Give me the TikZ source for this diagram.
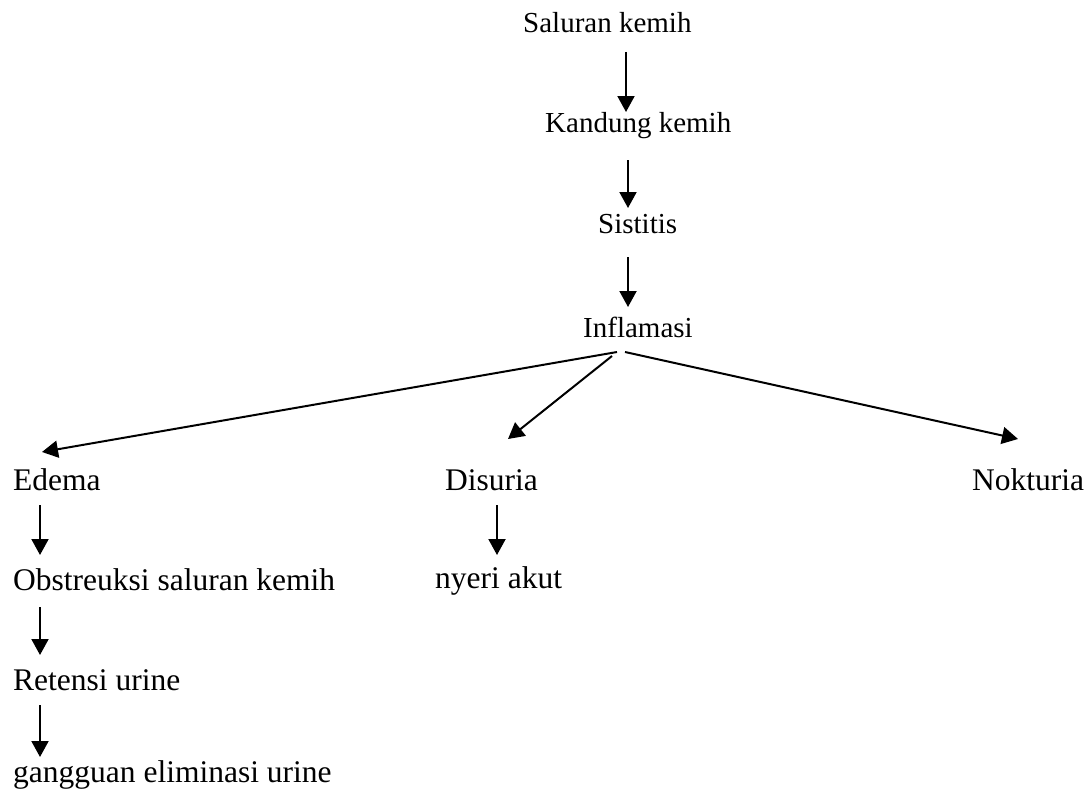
\documentclass[tikz,border=0pt]{standalone}
\usepackage{fontspec}
\setmainfont{Liberation Serif}
\usetikzlibrary{arrows.meta}
\begin{document}
\begin{tikzpicture}[x=1pt,y=-1pt,
  toptxt/.style={anchor=base west,inner sep=0pt,font=\fontsize{29}{32}\selectfont},
  bottxt/.style={anchor=base west,inner sep=0pt,font=\fontsize{31.5}{34}\selectfont},
  arr/.style={line width=2pt,-{Triangle[length=16pt,width=17pt]}}]
\useasboundingbox (0,0) rectangle (1092,800);
\node[toptxt] (sal) at (523,33) {Saluran kemih};
\node[toptxt] (kan) at (545,132) {Kandung kemih};
\node[toptxt] (sis) at (598,233) {Sistitis};
\node[toptxt] (inf) at (583,337) {Inflamasi};
\node[bottxt] (ede) at (13,490) {Edema};
\node[bottxt] (dis) at (445,490) {Disuria};
\node[bottxt] (nok) at (972,490) {Nokturia};
\node[bottxt] (obs) at (13,590) {Obstreuksi saluran kemih};
\node[bottxt] (nye) at (435,588) {nyeri akut};
\node[bottxt] (ret) at (13,690) {Retensi urine};
\node[bottxt] (gan) at (13,782) {gangguan eliminasi urine};
\draw[arr] ([shift={(103,19)}]sal.base west) -- ([shift={(81,-20)}]kan.base west);
\draw[arr] ([shift={(83,28)}]kan.base west) -- ([shift={(30,-25)}]sis.base west);
\draw[arr] ([shift={(30,24)}]sis.base west) -- ([shift={(45,-30)}]inf.base west);
\draw[arr] ([shift={(34,15)}]inf.base west) -- ([shift={(29,-38)}]ede.base west);
\draw[arr] ([shift={(29,19)}]inf.base west) -- ([shift={(63,-51)}]dis.base west);
\draw[arr] ([shift={(42,15)}]inf.base west) -- ([shift={(46,-51)}]nok.base west);
\draw[arr] ([shift={(27,15)}]ede.base west) -- ([shift={(27,-35)}]obs.base west);
\draw[arr] ([shift={(27,17)}]obs.base west) -- ([shift={(27,-35)}]ret.base west);
\draw[arr] ([shift={(27,15)}]ret.base west) -- ([shift={(27,-25)}]gan.base west);
\draw[arr] ([shift={(52,15)}]dis.base west) -- ([shift={(62,-33)}]nye.base west);
\end{tikzpicture}
\end{document}
